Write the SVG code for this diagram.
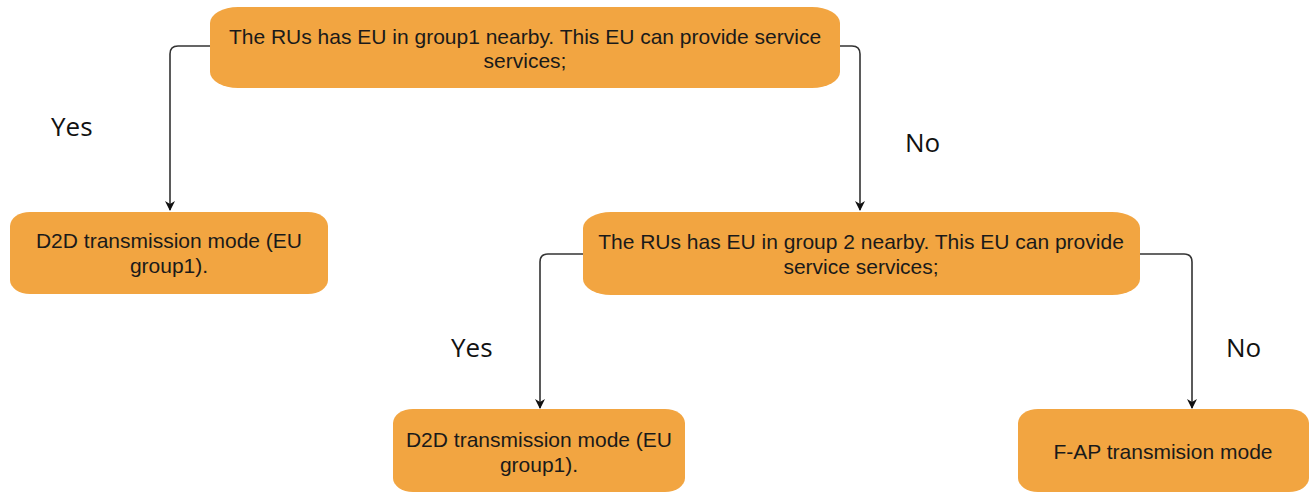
<svg xmlns="http://www.w3.org/2000/svg" width="1314" height="493" viewBox="0 0 1314 493">
  <defs>
    <style>
      .node { fill: #F2A541; stroke: none; }
      .txt { font-family: "Liberation Sans", Arial, sans-serif; font-size: 21px; fill: #1a1a1a; text-anchor: middle; }
      .lbl { font-family: "Open Sans", "Noto Sans", sans-serif; font-size: 26px; fill: #111111; }
      .edge { fill: none; stroke: #333333; stroke-width: 1.6; }
    </style>
    <marker id="arrow" viewBox="0 0 10 10" refX="9" refY="5" markerWidth="10" markerHeight="10" markerUnits="userSpaceOnUse" orient="auto">
      <path d="M0,0 L10,5 L0,10 L3,5 Z" fill="#111111"/>
    </marker>
  </defs>
  <rect width="1314" height="493" fill="#ffffff"/>

  <g id="connectors">
    <path class="edge" d="M210,46 H178 Q170,46 170,54 V210" marker-end="url(#arrow)"/>
    <path class="edge" d="M840,46 H852 Q860,46 860,54 V210" marker-end="url(#arrow)"/>
    <path class="edge" d="M583,254 H548 Q540,254 540,262 V408" marker-end="url(#arrow)"/>
    <path class="edge" d="M1140,254 H1184 Q1192,254 1192,262 V408" marker-end="url(#arrow)"/>
  </g>

  <g id="q1">
    <rect class="node" x="210" y="7" width="630" height="81" rx="28" ry="16"/>
    <text class="txt" x="525" y="44">The RUs has EU in group1 nearby. This EU can provide service</text>
    <text class="txt" x="525" y="68">services;</text>
  </g>

  <g id="d2d-a">
    <rect class="node" x="10" y="212" width="318" height="82" rx="20" ry="14"/>
    <text class="txt" x="169" y="248">D2D transmission mode (EU</text>
    <text class="txt" x="169" y="273">group1).</text>
  </g>

  <g id="q2">
    <rect class="node" x="583" y="212" width="557" height="83" rx="28" ry="16"/>
    <text class="txt" x="861" y="249">The RUs has EU in group 2 nearby. This EU can provide</text>
    <text class="txt" x="861" y="274">service services;</text>
  </g>

  <g id="d2d-b">
    <rect class="node" x="393" y="409" width="292" height="83" rx="20" ry="14"/>
    <text class="txt" x="539" y="447">D2D transmission mode (EU</text>
    <text class="txt" x="539" y="472">group1).</text>
  </g>

  <g id="fap">
    <rect class="node" x="1018" y="409" width="291" height="83" rx="20" ry="14"/>
    <text class="txt" x="1163" y="459">F-AP transmision mode</text>
  </g>

  <g id="labels">
    <text class="lbl" x="51" y="136">Yes</text>
    <text class="lbl" x="905" y="152">No</text>
    <text class="lbl" x="451" y="357">Yes</text>
    <text class="lbl" x="1226" y="357">No</text>
  </g>
</svg>
